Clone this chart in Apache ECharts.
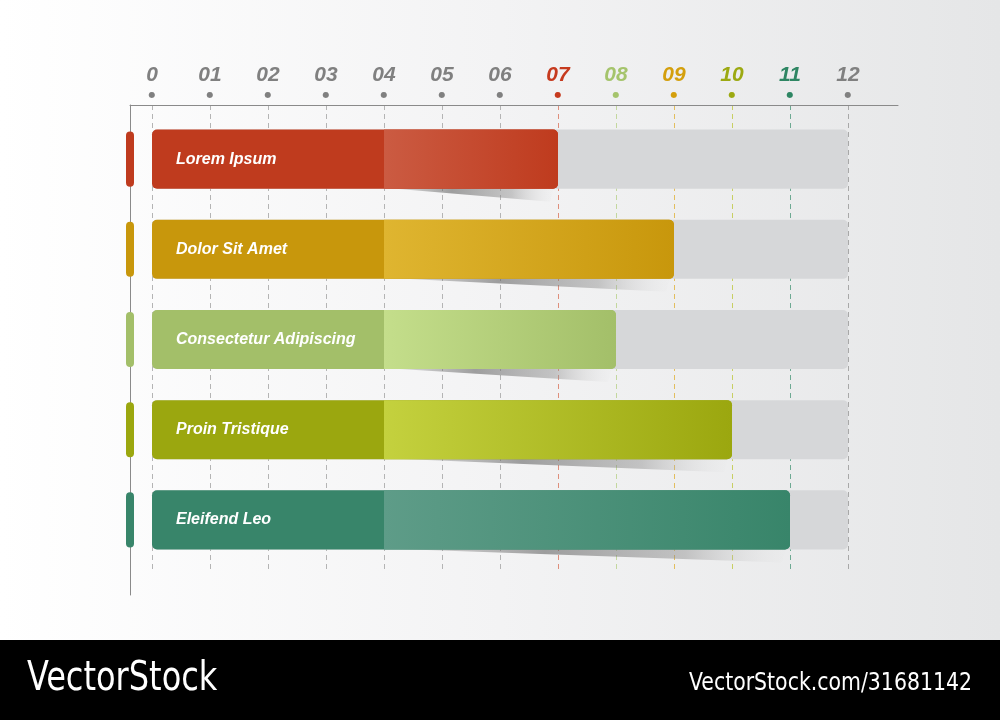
<!DOCTYPE html>
<html><head><meta charset="utf-8">
<script src="https://cdn.jsdelivr.net/npm/echarts@6/dist/echarts.min.js"></script>
<style>html,body{margin:0;padding:0;background:#fff}#c{width:1000px;height:720px;}</style>
</head><body><div id="c"></div>
<script>
// ---- data ----
const categories = ['Lorem Ipsum', 'Dolor Sit Amet', 'Consectetur Adipiscing', 'Proin Tristique', 'Eleifend Leo'];
const values = [7, 9, 8, 10, 11];
const tickLabels = ['0', '01', '02', '03', '04', '05', '06', '07', '08', '09', '10', '11', '12'];
const axisMin = 0;
const axisMax = 12;
const shadeStart = 4;

// ---- styles ----
const barColors = ['#BF3B1E', '#C8970C', '#A3BF69', '#9BA70F', '#38856A'];
const highlightColors = ['#CB5B42', '#DFB530', '#C4DE8B', '#C4D13E', '#5E9C88'];
const tickColors = ['#808080', '#808080', '#808080', '#808080', '#808080', '#808080', '#808080',
  '#C63A1E', '#A5C46C', '#D49F0C', '#9CA912', '#2E8663', '#808080'];
const gridColors = ['#B4B4B4', '#B4B4B4', '#B4B4B4', '#B4B4B4', '#B4B4B4', '#B4B4B4', '#B4B4B4',
  '#DE8E7C', '#C3D79E', '#E2BE5E', '#C8CF62', '#6DA992', '#A8A8A8'];
const FONT = '"Liberation Sans", Arial, sans-serif';
const NARROW = '"DejaVu Sans Condensed", "Liberation Sans Narrow", sans-serif';

const rich = {};
tickLabels.forEach((t, i) => {
  rich['t' + i] = { color: tickColors[i], fontSize: 21, fontWeight: 'bold', fontStyle: 'italic', fontFamily: FONT, lineHeight: 26, align: 'center' };
  rich['d' + i] = { color: tickColors[i], fontSize: 8, lineHeight: 14, align: 'center', fontFamily: '"DejaVu Sans", sans-serif' };
});

const chart = echarts.init(document.getElementById('c'));
const G = echarts.graphic;

const option = {
  animation: false,
  backgroundColor: new G.LinearGradient(0, 0, 1, 0, [
    { offset: 0, color: '#FFFFFF' }, { offset: 0.5, color: '#F3F3F4' }, { offset: 1, color: '#E5E6E7' }
  ]),
  grid: [
    { left: 130, top: 105, width: 768, height: 490, containLabel: false, outerBoundsMode: 'none' },
    { left: 152, top: 105, width: 696, height: 465, containLabel: false, outerBoundsMode: 'none' },
    { left: 152, top: 114, width: 696, height: 451, containLabel: false, outerBoundsMode: 'none' }
  ],
  xAxis: [
    { gridIndex: 0, type: 'value', min: 0, max: 1, position: 'top',
      axisLine: { show: true, onZero: false, lineStyle: { color: '#8A8A8A', width: 1 } },
      axisTick: { show: false }, axisLabel: { show: false }, splitLine: { show: false } },
    { gridIndex: 1, type: 'value', min: axisMin, max: axisMax, interval: 1, position: 'top',
      axisLine: { show: false }, axisTick: { show: false },
      axisLabel: { show: true, margin: 3, rich: rich,
        formatter: (v) => '{t' + v + '|' + tickLabels[v] + '}\n{d' + v + '|●}' },
      splitLine: { show: true, lineStyle: { type: [5, 4], width: 1, color: gridColors } } },
    { gridIndex: 2, type: 'value', min: axisMin, max: axisMax, show: false }
  ],
  yAxis: [
    { gridIndex: 0, type: 'value', min: 0, max: 1,
      axisLine: { show: true, onZero: false, lineStyle: { color: '#8A8A8A', width: 1 } },
      axisTick: { show: false }, axisLabel: { show: false }, splitLine: { show: false } },
    { gridIndex: 1, type: 'value', min: 0, max: 1, show: false, splitLine: { show: false } },
    { gridIndex: 2, type: 'category', data: categories, inverse: true, show: false }
  ],
  series: [{
    type: 'custom',
    xAxisIndex: 2, yAxisIndex: 2,
    encode: { x: 0, y: 1 },
    data: values.map((v, i) => [v, i]),
    renderItem: function (params, api) {
      const idx = api.value(1);
      const v = api.value(0);
      const p0 = api.coord([axisMin, idx]);
      const pm = api.coord([axisMax, idx]);
      const p1 = api.coord([v, idx]);
      const ps = api.coord([shadeStart, idx]);
      const h = api.size([0, 1])[1] * 0.655;
      const top = p0[1] - h / 2, bot = p0[1] + h / 2;
      const color = barColors[idx];
      const cs = params.coordSys;
      return { type: 'group', children: [
        { type: 'rect', shape: { x: p0[0], y: top, width: pm[0] - p0[0], height: h, r: 5 },
          style: { fill: '#D6D7D9' } },
        { type: 'polygon', shape: { points: [[ps[0], bot - 1], [p1[0] - 4, bot - 1], [p1[0] - 8, bot + 13]] },
          style: { fill: new G.LinearGradient(0, 0, 1, 0, [
            { offset: 0, color: 'rgba(120,120,120,0.15)' },
            { offset: 0.4, color: 'rgba(100,100,100,0.6)' },
            { offset: 0.75, color: 'rgba(140,140,140,0.45)' },
            { offset: 1, color: 'rgba(220,220,220,0.05)' }]) } },
        { type: 'rect', shape: { x: cs.x - 26, y: top + 2, width: 8, height: h - 4, r: 4 },
          style: { fill: color } },
        { type: 'rect', shape: { x: p0[0], y: top, width: p1[0] - p0[0], height: h, r: 5 },
          style: { fill: color } },
        { type: 'rect', shape: { x: ps[0], y: top, width: p1[0] - ps[0], height: h, r: [0, 5, 5, 0] },
          style: { fill: new G.LinearGradient(0, 0, 1, 0, [
            { offset: 0, color: highlightColors[idx] },
            { offset: 1, color: color }]) } },
        { type: 'text', style: { x: p0[0] + 24, y: p0[1], text: categories[idx], fill: '#FFFFFF',
            fontSize: 16, fontWeight: 'bold', fontStyle: 'italic', fontFamily: FONT,
            verticalAlign: 'middle', align: 'left' } }
      ] };
    }
  }],
  graphic: [
    { type: 'rect', left: 0, top: 640, shape: { width: 1000, height: 80 }, style: { fill: '#000' }, z: 10 },
    { type: 'text', x: 27, y: 680, scaleX: 0.89, z: 11,
      style: { text: 'VectorStock', fill: '#fff', fontSize: 40, fontFamily: NARROW, verticalAlign: 'middle', align: 'left' } },
    { type: 'text', x: 972, y: 683, scaleX: 0.91, z: 11,
      style: { text: 'VectorStock.com/31681142', fill: '#fff', fontSize: 25, fontFamily: NARROW, verticalAlign: 'middle', align: 'right' } }
  ]
};
chart.setOption(option);
</script>
</body></html>
